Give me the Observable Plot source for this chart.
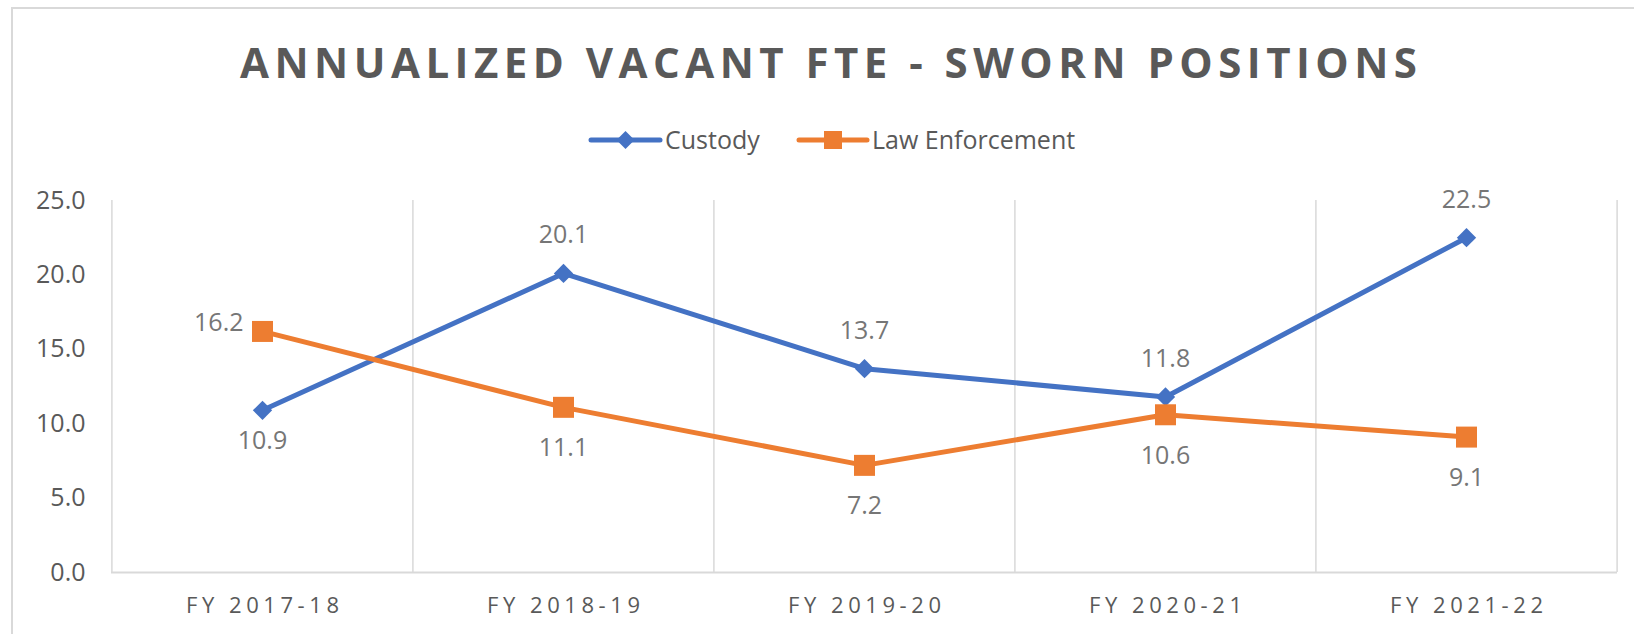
<!DOCTYPE html>
<html><head><meta charset="utf-8">
<script src="https://cdn.jsdelivr.net/npm/d3@7"></script>
<script src="https://cdn.jsdelivr.net/npm/@observablehq/plot@0.6"></script>
<style>
html,body{margin:0;padding:0;background:#fff;width:1634px;height:634px;overflow:hidden;font-family:"Open Sans",sans-serif;}
#frame{position:absolute;left:11px;top:7px;width:1700px;height:700px;border-left:2px solid #d9d9d9;border-top:2px solid #d9d9d9;box-sizing:border-box;}
#title{position:absolute;top:41px;left:0;white-space:nowrap;font-weight:700;font-size:42px;line-height:42px;color:#595959;}
#legend{position:absolute;top:120px;left:0;}
#chart{position:absolute;left:0;top:165px;}
</style></head><body>
<div id="frame"></div>
<div id="title"></div>
<svg id="legend" width="1634" height="40"></svg>
<div id="chart"></div>
<script>
const titleText = "ANNUALIZED VACANT FTE - SWORN POSITIONS";
const categories = ["FY 2017-18","FY 2018-19","FY 2019-20","FY 2020-21","FY 2021-22"];
const seriesNames = ["Custody","Law Enforcement"];
const custody = [10.9,20.1,13.7,11.8,22.5];
const lawEnforcement = [16.2,11.1,7.2,10.6,9.1];
const custodyLabelPos = ["below","above","above","above","above"];
const lawLabelPos = ["left","below","below","below","below"];
const yTicks = [0,5,10,15,20,25];
const seriesColors = ["#4472C4","#ED7D31"];
const seriesSymbols = ["diamond2","square"];

// Title
const t = document.getElementById("title");
t.textContent = titleText;
const w0 = t.getBoundingClientRect().width;
const targetW = 1177;
const ls = (targetW - w0) / (titleText.length - 1);
t.style.letterSpacing = ls + "px";
t.style.left = (828.5 - targetW/2) + "px";

// Legend (layout only)
const lg = d3.select("#legend");
const legendItems = [
  {name: seriesNames[0], color: seriesColors[0], x0: 591, x1: 660, tx: 665, sym: "diamond"},
  {name: seriesNames[1], color: seriesColors[1], x0: 799, x1: 867, tx: 872, sym: "square"}
];
const cy = 20;
for (const it of legendItems) {
  lg.append("line").attr("x1", it.x0).attr("x2", it.x1).attr("y1", cy).attr("y2", cy)
    .attr("stroke", it.color).attr("stroke-width", 5).attr("stroke-linecap", "round");
  const mx = (it.x0 + it.x1) / 2;
  if (it.sym === "diamond") {
    lg.append("path").attr("d", `M${mx},${cy-9}L${mx+9},${cy}L${mx},${cy+9}L${mx-9},${cy}Z`).attr("fill", it.color);
  } else {
    lg.append("rect").attr("x", mx-9).attr("y", cy-9).attr("width", 18).attr("height", 18).attr("fill", it.color);
  }
  lg.append("text").attr("x", it.tx).attr("y", cy).attr("dy", "0.35em")
    .attr("font-family", "Open Sans").attr("font-size", 25).attr("fill", "#595959").text(it.name);
}

// Chart
const W = 1634, H = 469, ml = 111, mr = 17, mt = 35, mb = 62;
const step = (W - ml - mr) / categories.length;
const rows = [];
categories.forEach((c, i) => {
  rows.push({year: c, series: seriesNames[0], value: custody[i], pos: custodyLabelPos[i]});
  rows.push({year: c, series: seriesNames[1], value: lawEnforcement[i], pos: lawLabelPos[i]});
});
const labelFill = "#767676";
const fmt = d => d.value.toFixed(1);
const chart = Plot.plot({
  width: W, height: H, marginLeft: ml, marginRight: mr, marginTop: mt, marginBottom: mb,
  style: {fontFamily: "Open Sans", background: "transparent", overflow: "visible"},
  x: {type: "point", domain: categories, padding: 0.5, label: null},
  y: {domain: [0, 25], label: null},
  color: {domain: seriesNames, range: seriesColors},
  symbol: {domain: seriesNames, range: seriesSymbols},
  marks: [
    Plot.ruleX(categories, {x: d => d, dx: -step/2, stroke: "#d9d9d9", strokeWidth: 1.5}),
    Plot.ruleX(categories.slice(-1), {x: d => d, dx: step/2, stroke: "#d9d9d9", strokeWidth: 1.5}),
    Plot.ruleY([0], {stroke: "#d9d9d9", strokeWidth: 2}),
    Plot.axisY({ticks: yTicks, tickSize: 0, tickPadding: 26, tickFormat: d => d.toFixed(1), fontSize: 25, color: "#595959", label: null}),
    Plot.axisX({tickSize: 0, tickPadding: 25, fontSize: 22, color: "#595959", label: null}),
    Plot.line(rows, {x: "year", y: "value", z: "series", stroke: "series", strokeWidth: 5}),
    Plot.dot(rows, {filter: d => d.series === seriesNames[0], x: "year", y: "value", fill: "series", stroke: null, symbol: "series", r: 8.7}),
    Plot.dot(rows, {filter: d => d.series === seriesNames[1], x: "year", y: "value", fill: "series", stroke: null, symbol: "series", r: 11.85}),
    Plot.text(rows, {filter: d => d.pos === "above", x: "year", y: "value", text: fmt, dy: -38, fontSize: 25, fill: labelFill}),
    Plot.text(rows, {filter: d => d.pos === "below" && d.series === seriesNames[0], x: "year", y: "value", text: fmt, dy: 31, fontSize: 25, fill: labelFill}),
    Plot.text(rows, {filter: d => d.pos === "below" && d.series === seriesNames[1], x: "year", y: "value", text: fmt, dy: 41, fontSize: 25, fill: labelFill}),
    Plot.text(rows, {filter: d => d.pos === "left", x: "year", y: "value", text: fmt, textAnchor: "end", dx: -19, dy: -8, fontSize: 25, fill: labelFill})
  ]
});
document.getElementById("chart").appendChild(chart);

// letter-spaced category labels
const xt = chart.querySelectorAll('g[aria-label="x-axis tick label"] text');
xt.forEach(el => {
  const len = el.getComputedTextLength();
  const n = el.textContent.length;
  const s = (153 - len) / (n - 1);
  el.style.letterSpacing = s + "px";
  el.setAttribute("dx", s / 2);
});
</script>
</body></html>
